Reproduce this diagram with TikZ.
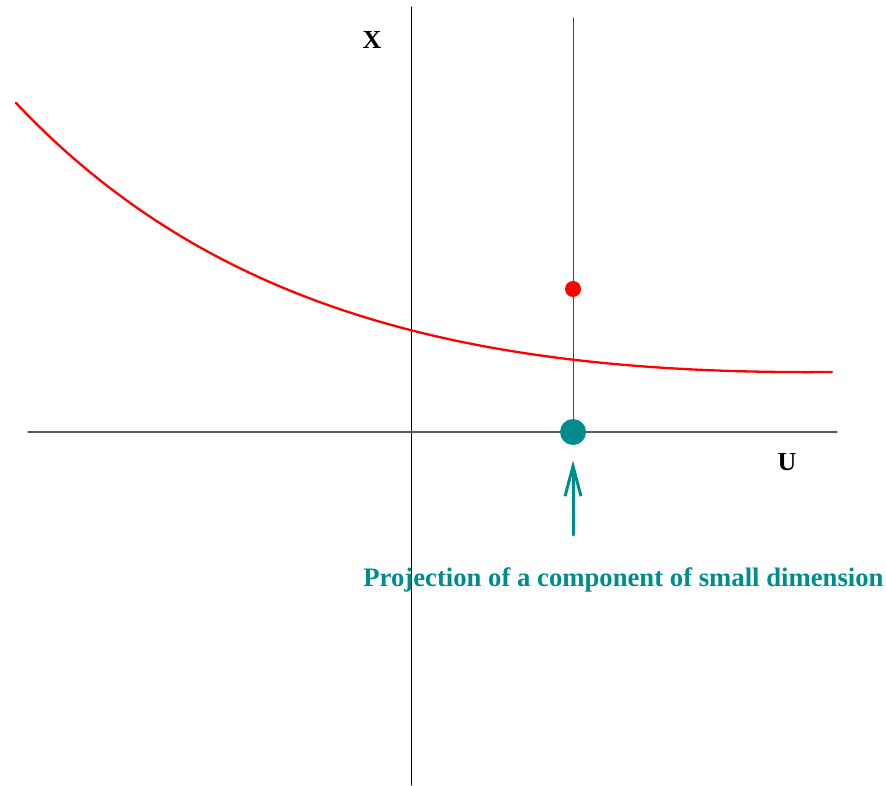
\documentclass[tikz,border=0pt]{standalone}
\usepackage{fontspec}
\setmainfont{Liberation Serif}
\usetikzlibrary{arrows.meta}

\begin{document}
\begin{tikzpicture}[x=0.5pt,y=-0.5pt,line cap=round,line join=round]
  \definecolor{axisgray}{RGB}{90,90,90}
  \definecolor{curvered}{RGB}{255,0,0}
  \definecolor{projteal}{RGB}{0,140,140}
  \definecolor{fibre}{RGB}{165,30,55}

  \tikzset{
    axislabel/.style={font=\bfseries\fontsize{13}{15}\selectfont},
    dot/.style={circle,inner sep=0pt,minimum size=#1}
  }

  % frame
  \useasboundingbox (0,0) rectangle (886,785);

  % axes
  \draw[black,line width=0.5pt] (411,7) -- (411,785);
  \draw[axisgray,line width=0.6pt] (28,432) -- (837,432);
  \node[axislabel] (xlab) at (372,40) {X};
  \node[axislabel] (ulab) at (787,462) {U};

  % vertical fibre through the point
  \draw[fibre,line width=0.5pt] (573,18) -- (573,432);

  % graph
  \draw[curvered,line width=1.15pt] (16,103) .. controls (216,315) and (482,375) .. (832,372);

  % points
  \node[dot=8pt,fill=curvered] (pt) at (573,289) {};
  \node[dot=13pt,fill=projteal] (proj) at (573,432) {};

  % arrow and caption
  \coordinate (tail) at (573,535);
  \draw[projteal,line width=1.5pt,-{Straight Barb[length=15pt,width=8pt]}] (tail) -- ([yshift=-7.5pt]proj.south);
  \node[anchor=west,text=projteal,font=\bfseries\fontsize{13.35}{16}\selectfont,inner sep=0pt] (caption) at (363,580)
    {Projection of a component of small dimension};
\end{tikzpicture}
\end{document}
